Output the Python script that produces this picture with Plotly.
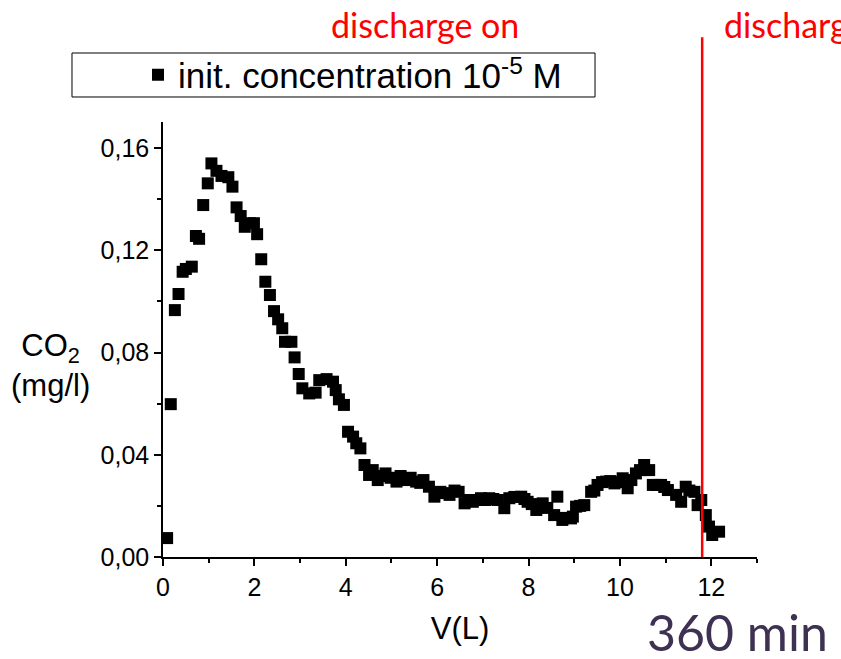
import plotly.graph_objects as go

# Volume V (L)
v_l = [0.09, 0.17, 0.26, 0.34, 0.43, 0.50, 0.63, 0.72, 0.79, 0.88, 0.98, 1.06, 1.17, 1.28, 1.43,
       1.52, 1.61, 1.70, 1.79, 1.90, 1.99, 2.06, 2.15, 2.24, 2.34, 2.43, 2.52, 2.61, 2.67, 2.81,
       2.88, 2.97, 3.05, 3.20, 3.34, 3.42, 3.58, 3.72, 3.78, 3.85, 3.96, 4.05, 4.16, 4.23, 4.32,
       4.41, 4.51, 4.59, 4.70, 4.78, 4.87, 4.98, 5.11, 5.20, 5.31, 5.42, 5.54, 5.63, 5.70, 5.82,
       5.94, 6.07, 6.16, 6.27, 6.38, 6.47, 6.60, 6.69, 6.78, 6.86, 6.96, 7.06, 7.14, 7.23, 7.33,
       7.47, 7.58, 7.69, 7.84, 7.91, 7.98, 8.07, 8.17, 8.24, 8.31, 8.41, 8.56, 8.63, 8.74, 8.82,
       8.93, 8.97, 9.04, 9.13, 9.22, 9.37, 9.44, 9.51, 9.61, 9.70, 9.79, 9.88, 9.97, 10.06, 10.17,
       10.25, 10.35, 10.44, 10.53, 10.64, 10.72, 10.80, 10.90, 10.97, 11.05, 11.23, 11.34, 11.44,
       11.52, 11.63, 11.70, 11.78, 11.88, 11.95, 12.02, 12.17]
# CO2 (mg/l)
co2 = [0.0074, 0.0598, 0.0966, 0.1029, 0.1116, 0.1127, 0.1136, 0.1256, 0.1245, 0.1377, 0.1462,
       0.1540, 0.1511, 0.1491, 0.1486, 0.1449, 0.1368, 0.1334, 0.1292, 0.1306, 0.1306, 0.1263,
       0.1165, 0.1077, 0.1025, 0.0962, 0.0930, 0.0895, 0.0842, 0.0842, 0.0781, 0.0716, 0.0660,
       0.0640, 0.0643, 0.0692, 0.0696, 0.0686, 0.0653, 0.0617, 0.0595, 0.0490, 0.0471, 0.0445,
       0.0425, 0.0360, 0.0321, 0.0340, 0.0301, 0.0317, 0.0327, 0.0310, 0.0295, 0.0317, 0.0301,
       0.0310, 0.0295, 0.0290, 0.0301, 0.0275, 0.0236, 0.0255, 0.0250, 0.0243, 0.0260, 0.0255,
       0.0210, 0.0223, 0.0216, 0.0223, 0.0230, 0.0223, 0.0230, 0.0227, 0.0223, 0.0191, 0.0230,
       0.0235, 0.0236, 0.0227, 0.0216, 0.0207, 0.0184, 0.0203, 0.0210, 0.0192, 0.0164, 0.0236,
       0.0145, 0.0153, 0.0151, 0.0158, 0.0197, 0.0200, 0.0203, 0.0255, 0.0260, 0.0282, 0.0293,
       0.0295, 0.0297, 0.0288, 0.0293, 0.0308, 0.0269, 0.0301, 0.0327, 0.0340, 0.0360, 0.0340,
       0.0282, 0.0282, 0.0282, 0.0274, 0.0262, 0.0243, 0.0216, 0.0275, 0.0260, 0.0255, 0.0203,
       0.0223, 0.0164, 0.0119, 0.0086, 0.0099]

discharge_off_v = 11.8
series_name = "init. concentration 10<sup>-5</sup> M"

fig = go.Figure()
fig.add_trace(go.Scatter(
    x=v_l, y=co2, mode="markers", name=series_name,
    marker=dict(symbol="square", size=12, color="black"),
    showlegend=True,
))

# red "discharge off" marker line
fig.add_shape(type="line", xref="x", yref="paper",
              x0=discharge_off_v, x1=discharge_off_v, y0=0, y1=1.195,
              line=dict(color="red", width=2.5), layer="above")
# legend frame
fig.add_shape(type="rect", xref="paper", yref="paper",
              x0=-0.1532, x1=0.7273, y0=1.0575, y1=1.1586,
              line=dict(color="black", width=1), fillcolor="white", layer="below")

arial = "Liberation Sans, Arial"
axis_font = dict(family=arial, size=25, color="black")
fig.update_layout(
    width=841, height=659,
    margin=dict(l=163, r=84, t=122, b=102),
    paper_bgcolor="white", plot_bgcolor="white",
    separators=",.",
    font=dict(family=arial, color="black"),
    xaxis=dict(range=[0, 13], dtick=2, tick0=0, showgrid=False, zeroline=False,
               showline=True, linecolor="black", linewidth=1.5,
               ticks="outside", ticklen=7, tickwidth=1.5, tickcolor="black",
               tickfont=axis_font,
               minor=dict(dtick=1, ticks="outside", ticklen=4, tickcolor="black", tickwidth=1.5),
               title=dict(text="V(L)", font=dict(family=arial, size=31), standoff=18)),
    yaxis=dict(range=[0, 0.1702], dtick=0.04, tick0=0, tickformat=".2f", showgrid=False,
               zeroline=False, showline=True, linecolor="black", linewidth=1.5,
               ticks="outside", ticklen=7, tickwidth=1.5, tickcolor="black",
               tickfont=axis_font,
               minor=dict(dtick=0.02, ticks="outside", ticklen=4, tickcolor="black", tickwidth=1.5)),
    legend=dict(x=(138 - 163) / 594, y=1.108, xanchor="left", yanchor="middle",
                bgcolor="rgba(0,0,0,0)", borderwidth=0,
                font=dict(family=arial, size=35, color="black")),
    annotations=[
        dict(text="CO<sub>2</sub><br>(mg/l)", xref="paper", yref="paper", x=-0.190, y=0.441,
             xanchor="center", yanchor="middle", showarrow=False,
             font=dict(family=arial, size=31, color="black")),
        dict(text="discharge on", xref="paper", yref="paper", x=0.441, y=1.225,
             xanchor="center", yanchor="middle", showarrow=False,
             font=dict(family="Lato", size=34, color="red")),
        dict(text="discharge off", xref="paper", yref="paper", x=0.941, y=1.225,
             xanchor="left", yanchor="middle", showarrow=False,
             font=dict(family="Lato", size=34, color="red")),
        dict(text="360 min", xref="paper", yref="paper", x=0.811, y=-0.172,
             xanchor="left", yanchor="middle", showarrow=False,
             font=dict(family="Lato", size=50, color="#3e3152")),
    ],
)

fig.write_html("out.html")
